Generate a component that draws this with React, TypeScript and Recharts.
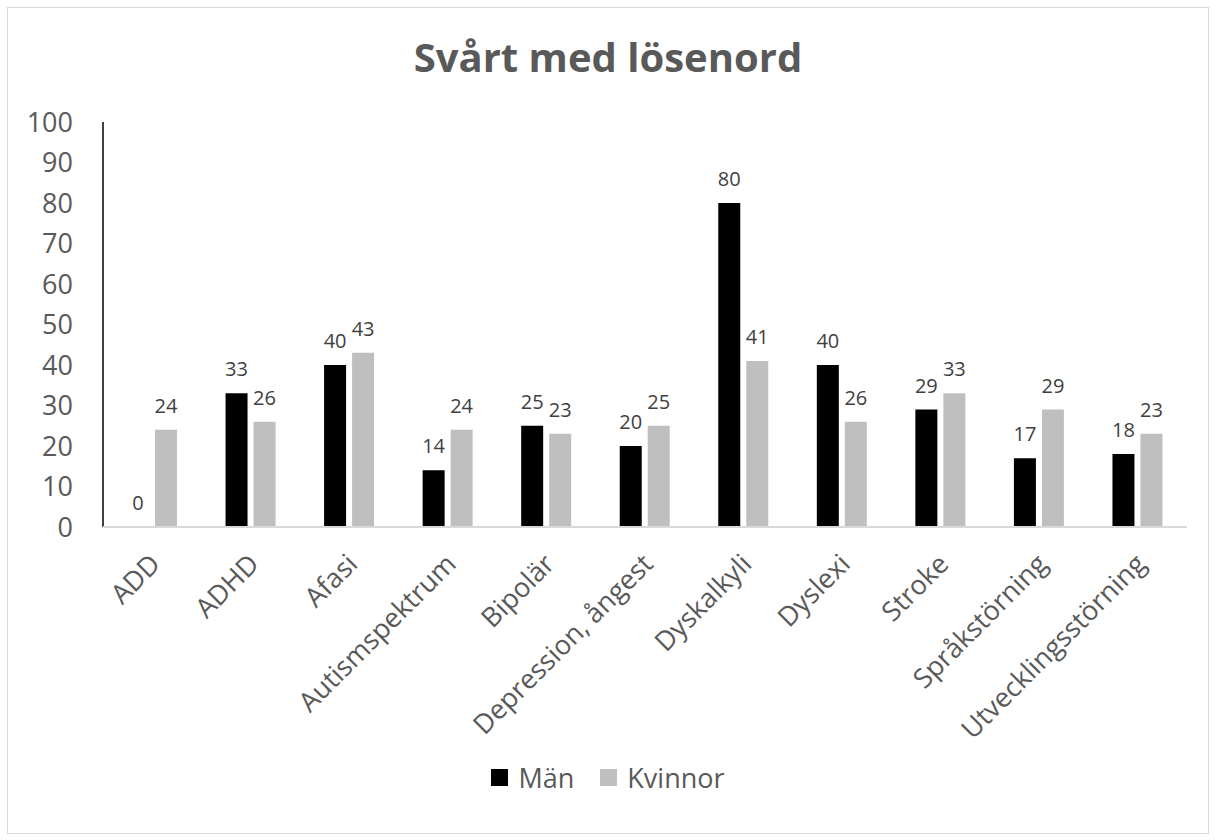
import React from "react";
import { BarChart, Bar, XAxis, YAxis, LabelList, Legend } from "recharts";

const categories = [
  "ADD",
  "ADHD",
  "Afasi",
  "Autismspektrum",
  "Bipolär",
  "Depression, ångest",
  "Dyskalkyli",
  "Dyslexi",
  "Stroke",
  "Språkstörning",
  "Utvecklingsstörning",
];
const man = [0, 33, 40, 14, 25, 20, 80, 40, 29, 17, 18];
const kvinnor = [24, 26, 43, 24, 23, 25, 41, 26, 33, 29, 23];
const yTicks = [0, 10, 20, 30, 40, 50, 60, 70, 80, 90, 100];

const data = categories.map((name, i) => ({ name, man: man[i], kvinnor: kvinnor[i] }));

const FONT = "'Open Sans', sans-serif";
const TEXT = "#595959";

function CategoryTick(props: any) {
  const { x, y, payload } = props;
  return (
    <g transform={`translate(${x + 3},${y + 24})`}>
      <text
        textAnchor="end"
        transform="rotate(-45)"
        dy="0.35em"
        fontFamily={FONT}
        fontSize={27}
        fill={TEXT}
      >
        {payload.value}
      </text>
    </g>
  );
}

// own label so that a zero value still shows "0"
function ValueLabel(props: any) {
  const { x, y, width, value } = props;
  return (
    <text
      x={Number(x) + Number(width) / 2}
      y={Number(y) - 17}
      textAnchor="middle"
      fontFamily={FONT}
      fontSize={20}
      fill="#404040"
    >
      {String(value)}
    </text>
  );
}

function LegendContent() {
  const items = [
    { label: "Män", color: "#000000" },
    { label: "Kvinnor", color: "#bfbfbf" },
  ];
  return (
    <div style={{ display: "flex", justifyContent: "center", gap: 26, fontFamily: FONT, fontSize: 27, color: TEXT }}>
      {items.map((it) => (
        <div key={it.label} style={{ display: "flex", alignItems: "center" }}>
          <span style={{ width: 17, height: 17, background: it.color, display: "inline-block", marginRight: 10 }} />
          <span>{it.label}</span>
        </div>
      ))}
    </div>
  );
}

export default function App() {
  return (
    <div
      style={{
        position: "absolute",
        left: 7,
        top: 7,
        width: 1202,
        height: 827,
        boxSizing: "border-box",
        border: "1px solid #d9d9d9",
        background: "#fff",
      }}
    >
      <div
        style={{
          position: "absolute",
          top: 21,
          left: 0,
          width: 1200,
          textAlign: "center",
          fontFamily: FONT,
          fontWeight: 700,
          fontSize: 40,
          lineHeight: "normal",
          color: TEXT,
        }}
      >
        Svårt med lösenord
      </div>
      <BarChart
        width={1200}
        height={825}
        data={data}
        margin={{ top: 114, right: 21, left: 0, bottom: 0 }}
        barGap={6}
        barSize={22}
      >
        <YAxis
          domain={[0, 100]}
          ticks={yTicks}
          width={95}
          tickLine={false}
          tickSize={0}
          tickMargin={30}
          axisLine={{ stroke: "#000", strokeWidth: 1.5 }}
          tick={{ fontFamily: FONT, fontSize: 27, fill: TEXT }}
          interval={0}
        />
        <XAxis
          dataKey="name"
          height={306}
          interval={0}
          tickLine={false}
          axisLine={{ stroke: "#d9d9d9", strokeWidth: 2 }}
          tick={<CategoryTick />}
        />
        <Legend
          verticalAlign="middle"
          align="center"
          layout="horizontal"
          content={<LegendContent />}
          wrapperStyle={{ top: 751, left: 0, width: 1200 }}
        />
        <Bar dataKey="man" name="Män" fill="#000000" minPointSize={0.01} isAnimationActive={false}>
          <LabelList dataKey="man" content={<ValueLabel />} />
        </Bar>
        <Bar dataKey="kvinnor" name="Kvinnor" fill="#bfbfbf" isAnimationActive={false}>
          <LabelList dataKey="kvinnor" content={<ValueLabel />} />
        </Bar>
      </BarChart>
    </div>
  );
}
